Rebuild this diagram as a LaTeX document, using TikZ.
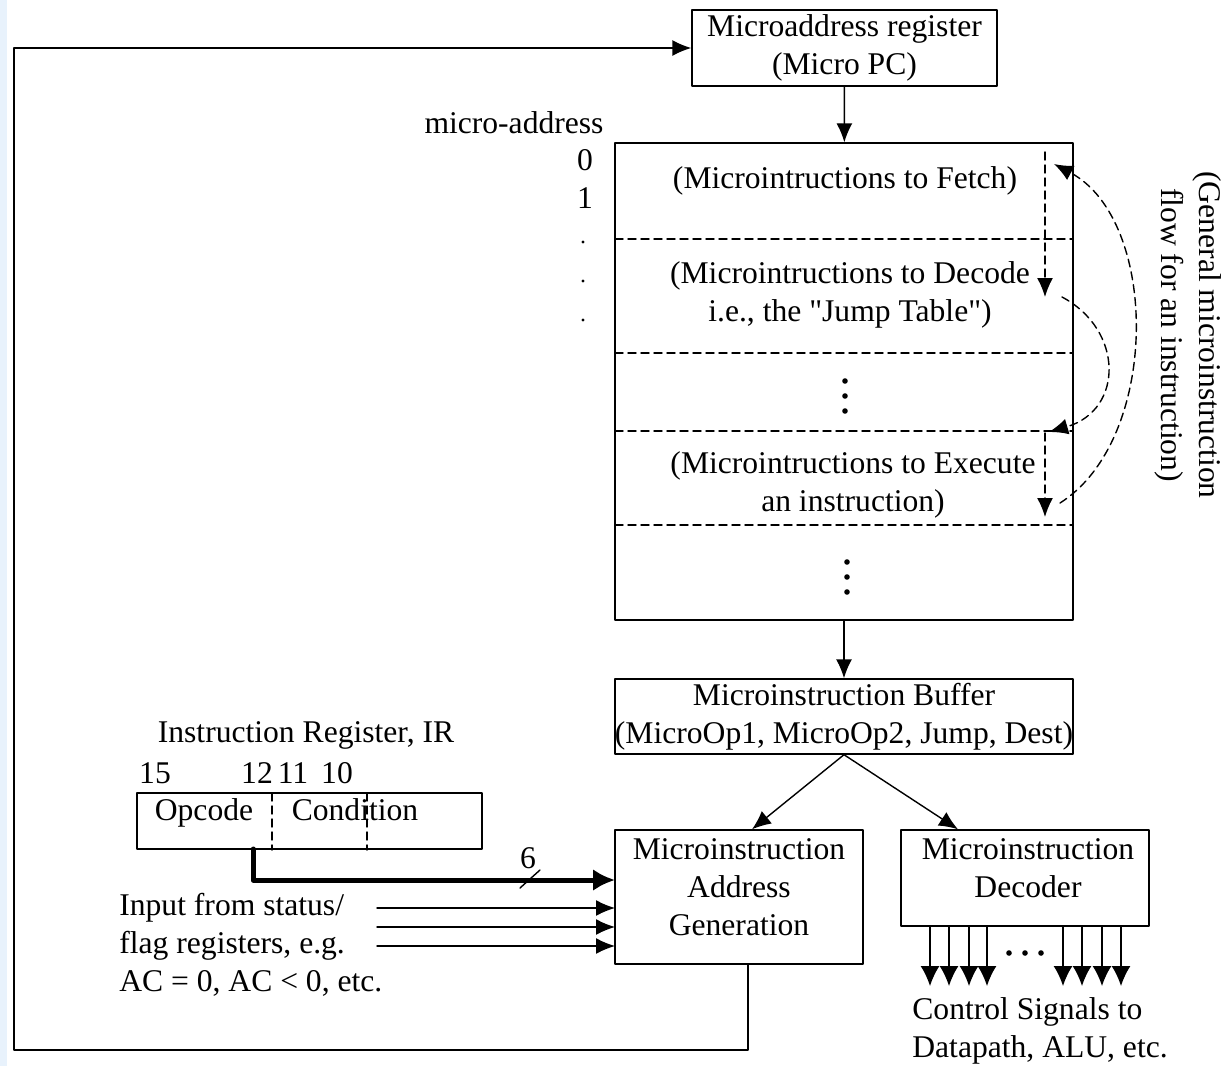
\documentclass[tikz,border=0pt]{standalone}
\usepackage{fontspec}
\setmainfont{Liberation Serif}
\usetikzlibrary{arrows.meta}
\usetikzlibrary{positioning}
\definecolor{stripblue}{rgb}{0.91,0.95,0.99}
\tikzset{
	blk/.style={draw=black, line width=0.7pt, align=center, inner sep=0pt},
	arr/.style={-{Latex[length=9.5pt, width=8pt]}},
	sig/.style={-{Latex[length=10pt, width=9.5pt]}},
	bus/.style={line width=2.5pt, -{Latex[length=11pt, width=11pt]}},
	dsh/.style={dash pattern=on 4pt off 2.5pt}
}
\begin{document}
\begin{tikzpicture}[line cap=round,line join=round, x=0.5pt,y=-0.5pt, line width=0.7pt, font=\fontsize{15.8}{19}\selectfont]
				\useasboundingbox (0,0) rectangle (1222,1066);
				\fill[stripblue] (0,0) rectangle (7,1066);
				\node[blk, minimum width=152.5pt, minimum height=38pt] (upc) at (844.5,48) {Microaddress register\\(Micro PC)};
				\node[blk, minimum width=229pt, minimum height=238.5pt] (cm) at (844,381.5) {};
				\node[blk, minimum width=229pt, minimum height=37.5pt] (buf) at (844,716.5) {Microinstruction Buffer\\(MicroOp1, MicroOp2, Jump, Dest)};
				\node[blk, minimum width=124pt, minimum height=67pt] (agen) at (739,897) {};
				\node[blk, minimum width=124pt, minimum height=48pt] (dec) at (1025,878) {};
				\node[blk, minimum width=172.5pt, minimum height=28pt] (ir) at (309.5,821) {};
				\foreach \y in {239,353,431,525}
				\draw[dsh,color=black] (615,\y) -- (1073,\y);
				\node (fetch) at (845,181) {(Microintructions to Fetch)};
				\node[align=center] (decode) at (850,295) {(Microintructions to Decode\\i.e., the \textquotedbl Jump Table\textquotedbl)};
				\node[align=center] (exec) at (853,485) {(Microintructions to Execute\\an instruction)};
				\foreach \y in {381,396,411}
				\fill[color=black] (845,\y) circle (2.8);
				\foreach \y in {562,577,592}
				\fill[color=black] (847,\y) circle (2.8);
				\node (maddr) at (514,123) {micro-address};
				\node (m0) at (585,160) {0};
				\node (m1) at (585,198) {1};
				\foreach \y in {242,281,320}
				\fill[color=black] (583,\y) circle (1.6);
				\draw[dsh,arr] (1045,152) -- (1045,297);
				\draw[dsh,arr] (1045,433) -- (1045,517);
				\draw[dsh,arr] (1062,297) .. controls (1124,330) and (1124,410) .. (1049,432);
				\draw[dsh,arr] (1060,503) .. controls (1160,440) and (1160,220) .. (1054,164);
				\node[rotate=-90, align=center] (flow) at (1188,335) {(General microinstruction\\flow for an instruction)};
				\draw[arr] (upc) -- (cm);
				\draw[arr] (cm) -- (buf);
				\draw[arr] (buf.south) -- ([xshift=6.5pt]agen.north);
				\draw[arr] (buf.south) -- ([xshift=-33.5pt]dec.north);
				\node[align=center] (agentxt) at (739,887) {Microinstruction\\Address\\Generation};
				\node[align=center] (dectxt) at (1028,868.5) {Microinstruction\\Decoder};
				\foreach \x in {930,949,969,987,1063,1082,1102,1121}
				\draw[sig] (\x,926) -- (\x,986);
				\foreach \x in {1009,1025,1041}
				\fill[color=black] (\x,953) circle (2.8);
				\node[align=left, anchor=west] (ctrl) at (905,1031) {Control Signals to\\Datapath, ALU, etc.};
				\node (irname) at (306,735) {Instruction Register, IR};
				\node (b15) at (155,773) {15};
				\node (b12) at (257,773) {12};
				\node (b11) at (293,773) {11};
				\node (b10) at (337,773) {10};
				\draw[dsh,color=black] (272,793) -- (272,850);
				\draw[dsh,color=black] (367,793) -- (367,850);
				\node[anchor=base] (opc) at (204,820) {Opcode};
				\node[anchor=base] (cond) at (355,820) {Condition};
				\coordinate (opcout) at (253,849);
				\coordinate (busend) at (615,880);
				\draw[bus] (opcout) |- (busend);
				\draw (520,888) -- (540,870);
				\node (width) at (528,858) {6};
				\foreach \y in {908,927,946}
				\draw[arr] (377,\y) -- (615,\y);
				\node[align=left, anchor=west] (flags) at (112,944.5) {Input from status/\\flag registers, e.g.\\AC = 0, AC < 0, etc.};
				\coordinate (fbA) at (748,964);
				\coordinate (fbB) at (14,1050);
				\draw[arr] (fbA) |- (fbB) |- (upc.west);
\end{tikzpicture}
\end{document}
